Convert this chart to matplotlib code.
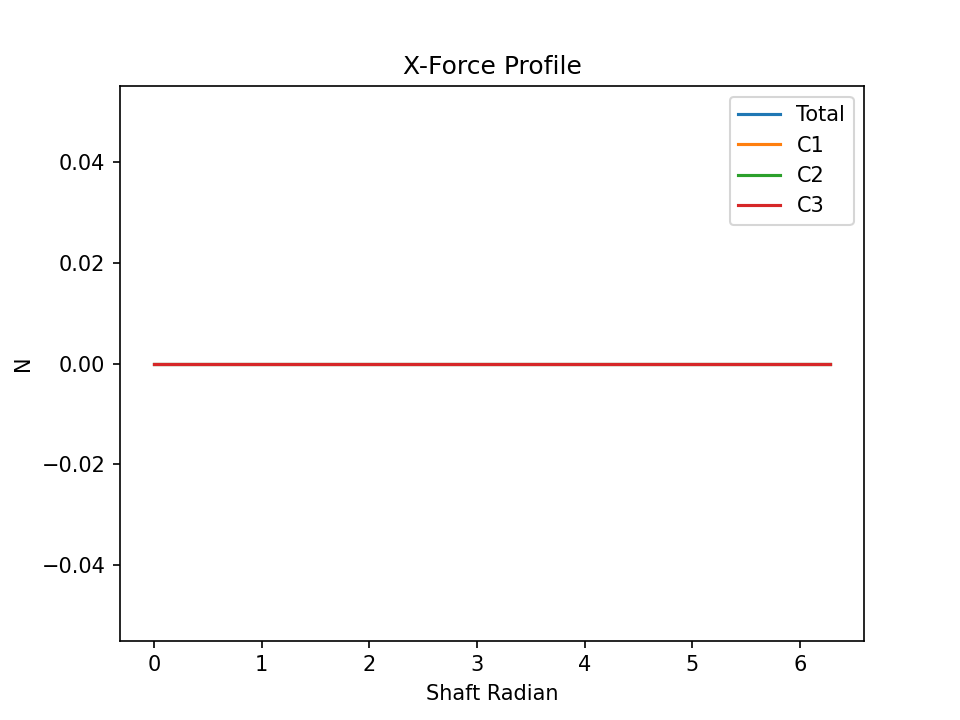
import matplotlib

matplotlib.use("Agg")
import matplotlib.pyplot as plt

# shaft angle samples (rad) and force components (N) -- all flat at zero
shaft_radian = [0.0, 0.5, 1.0, 1.5, 2.0, 2.5, 3.0, 3.5, 4.0, 4.5, 5.0, 5.5, 6.0, 6.28]
total = [0.0] * len(shaft_radian)
c1 = [0.0] * len(shaft_radian)
c2 = [0.0] * len(shaft_radian)
c3 = [0.0] * len(shaft_radian)

fig, ax = plt.subplots(figsize=(6.4, 4.8), dpi=150)
ax.plot(shaft_radian, total, label="Total")
ax.plot(shaft_radian, c1, label="C1")
ax.plot(shaft_radian, c2, label="C2")
ax.plot(shaft_radian, c3, label="C3")
ax.set_title("X-Force Profile")
ax.set_xlabel("Shaft Radian")
ax.set_ylabel("N")
ax.legend(loc="upper right")
fig.savefig("out.png", dpi=150)
